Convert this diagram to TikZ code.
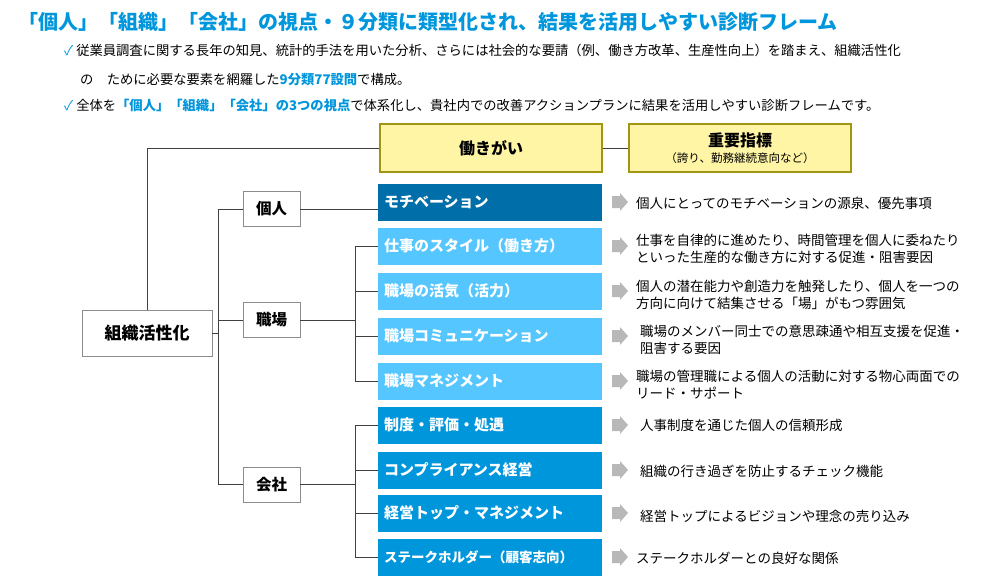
\documentclass[tikz,border=0pt]{standalone}
\usepackage{fontspec}
\setmainfont{Noto Sans CJK JP}
\begin{document}
\begin{tikzpicture}[x=1pt,y=-1pt,
 line/.style={draw=black!75,line width=0.9pt},
 yb/.style={draw={rgb,255:red,160;green,150;blue,20},line width=1.5pt,fill={rgb,255:red,255;green,245;blue,165},minimum width=222,minimum height=48,align=center,inner sep=0},
 bb/.style={minimum width=224,minimum height=37,inner sep=0,text width=212,align=left,text=white,font=\bfseries\fontsize{15}{17}\selectfont},
 gb/.style={draw=black!45,line width=0.8pt,fill=white,minimum width=57,minimum height=35,inner sep=0,font=\bfseries\fontsize{15.5}{17}\selectfont},
 desc/.style={anchor=west,align=left,font=\fontsize{13.5}{17}\selectfont,inner sep=0},
 arr/.style={fill=black!28,draw=none}]
\definecolor{tblue}{RGB}{0,150,220}
\definecolor{dblue}{RGB}{0,110,168}
\definecolor{lblue}{RGB}{85,198,255}
\definecolor{mblue}{RGB}{0,150,220}
\useasboundingbox (0,0) rectangle (1000,579);
\node[anchor=west,text=tblue,font=\bfseries\fontsize{20}{22}\selectfont,inner sep=0] (title) at (18,22) {「個人」「組織」「会社」の視点・９分類に類型化され、結果を活用しやすい診断フレーム};
\node[anchor=west,font=\fontsize{13.3}{15}\selectfont,inner sep=0] (b1) at (64,50) {{\color{tblue}✓} 従業員調査に関する長年の知見、統計的手法を用いた分析、さらには社会的な要請（例、働き方改革、生産性向上）を踏まえ、組織活性化};
\node[anchor=west,font=\fontsize{13.3}{15}\selectfont,inner sep=0] (b2) at (80,80) {の　ために必要な要素を網羅した{\color{tblue}\bfseries 9分類77設問}で構成。};
\node[anchor=west,font=\fontsize{13.3}{15}\selectfont,inner sep=0] (b3) at (64,105) {{\color{tblue}✓} 全体を{\color{tblue}\bfseries「個人」「組織」「会社」の3つの視点}で体系化し、貴社内での改善アクションプランに結果を活用しやすい診断フレームです。};

\node[yb,font=\bfseries\fontsize{16}{18}\selectfont] (hg) at (491,148) {働きがい};
\node[yb] (ji) at (740,148) {{\bfseries\fontsize{16}{19}\selectfont 重要指標}\\[4pt]{\fontsize{11.5}{13}\selectfont （誇り、勤務継続意向など）}};
\node[gb,minimum width=130,minimum height=46,font=\bfseries\fontsize{17}{19}\selectfont] (root) at (147,333) {組織活性化};
\node[gb] (ko) at (271.5,209) {個人};
\node[gb] (sh) at (271.5,320) {職場};
\node[gb] (ks) at (271.5,484.5) {会社};

\draw[line] (hg) -- (ji);
\draw[line] (hg.west) -| (root.north);
\draw[line] (root.east) -- ++(6,0) coordinate (j0);
\draw[line] (j0 |- ko.west) -- (j0 |- ks.west);
\draw[line] (j0 |- ko.west) -- (ko.west);
\draw[line] (j0 |- sh.west) -- (sh.west);
\draw[line] (j0 |- ks.west) -- (ks.west);

\def\boxes{m/202/dblue/モチベーション,s1/246/lblue/仕事のスタイル（働き方）,s2/291/lblue/職場の活気（活力）,s3/336/lblue/職場コミュニケーション,s4/381/lblue/職場マネジメント,c1/425/mblue/制度・評価・処遇,c2/470/mblue/コンプライアンス経営,c3/513/mblue/経営トップ・マネジメント,c4/557/mblue/{\fontsize{13.5}{15}\selectfont ステークホルダー（顧客志向）}}
\foreach \n/\y/\c/\t in \boxes {
  \node[bb,fill=\c] (\n) at (490,\y) {\t};
  \fill[arr] (612,\y-6) -- (620,\y-6) -- (620,\y-9) -- (628,\y) -- (620,\y+9) -- (620,\y+6) -- (612,\y+6) -- cycle;
}
\draw[line] (ko.east) -- (ko.east -| m.west);
\draw[line] (sh.east) -- ++(55,0) coordinate (j1);
\draw[line] (j1 |- s1.west) -- (j1 |- s4.west);
\foreach \n in {s1,s2,s3,s4} \draw[line] (j1 |- \n.west) -- (\n.west);
\draw[line] (ks.east) -- ++(55,0) coordinate (j2);
\draw[line] (j2 |- c1.west) -- (j2 |- c4.west);
\foreach \n in {c1,c2,c3,c4} \draw[line] (j2 |- \n.west) -- (\n.west);

\node[desc] (d1) at (636,203) {個人にとってのモチベーションの源泉、優先事項};
\node[desc] (d2) at (636,249) {仕事を自律的に進めたり、時間管理を個人に委ねたり\\といった生産的な働き方に対する促進・阻害要因};
\node[desc] (d3) at (636,295) {個人の潜在能力や創造力を触発したり、個人を一つの\\方向に向けて結集させる「場」がもつ雰囲気};
\node[desc] (d4) at (640,340) {職場のメンバー同士での意思疎通や相互支援を促進・\\阻害する要因};
\node[desc] (d5) at (636,385) {職場の管理職による個人の活動に対する物心両面での\\リード・サポート};
\node[desc] (d6) at (640,425) {人事制度を通じた個人の信頼形成};
\node[desc] (d7) at (640,471) {組織の行き過ぎを防止するチェック機能};
\node[desc] (d8) at (640,516) {経営トップによるビジョンや理念の売り込み};
\node[desc] (d9) at (636,558) {ステークホルダーとの良好な関係};
\end{tikzpicture}
\end{document}
